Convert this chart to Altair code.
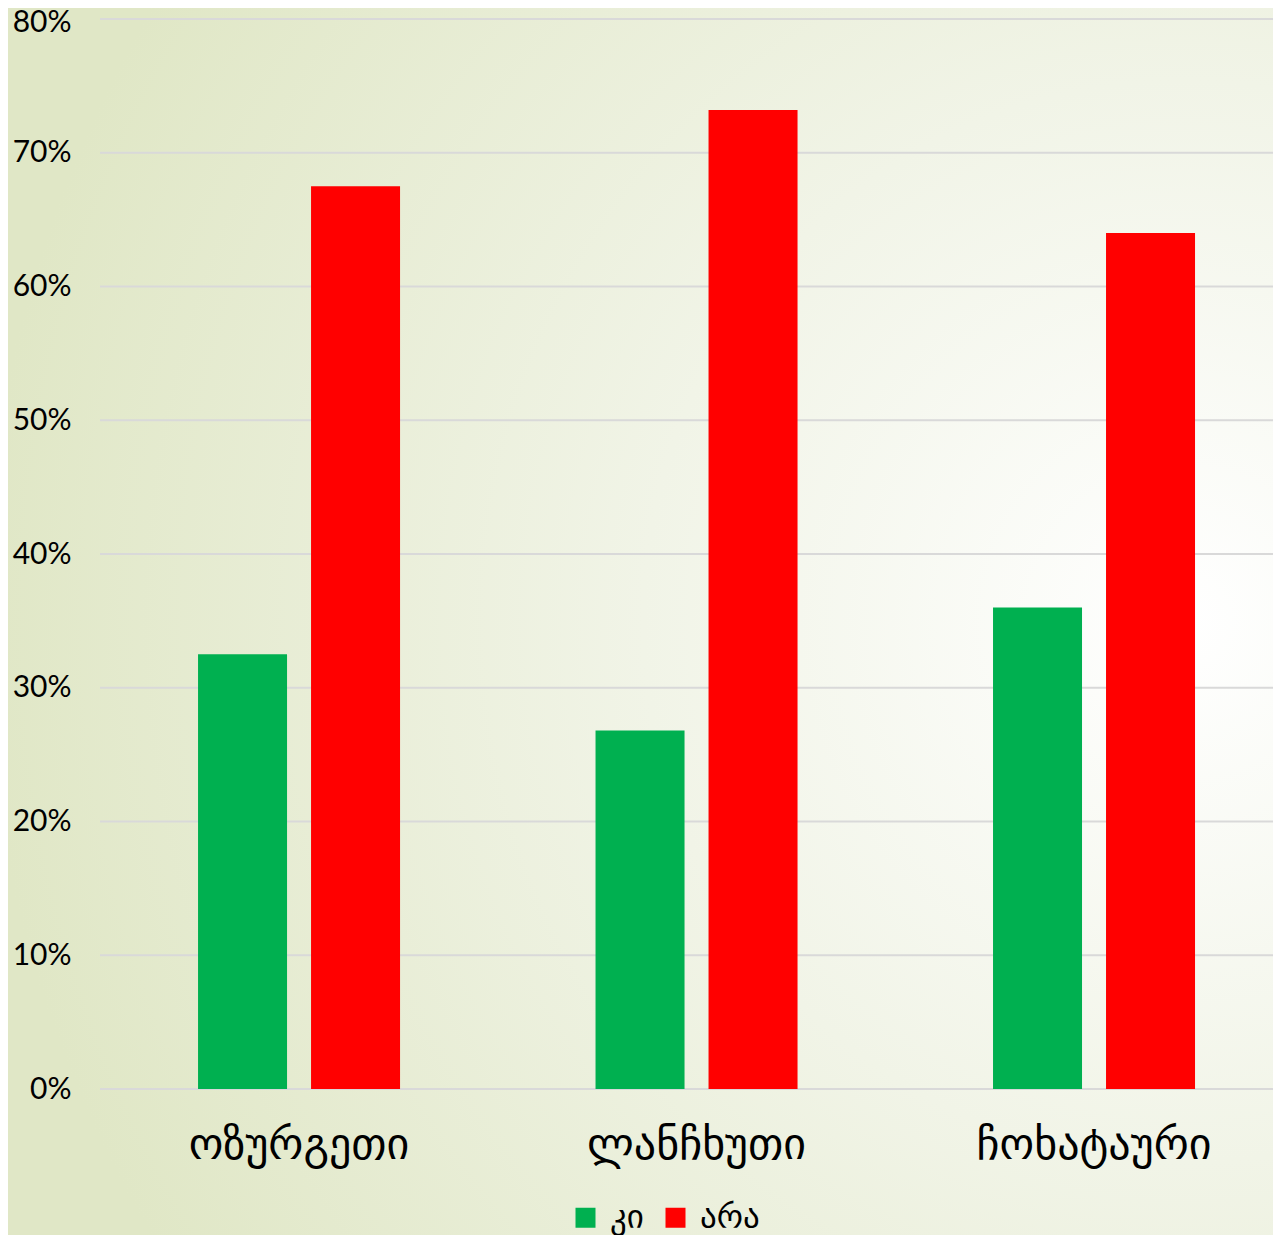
import altair as alt
import pandas as pd

categories = ["ოზურგეთი", "ლანჩხუთი", "ჩოხატაური"]
series = ["კი", "არა"]
yes_values = [0.325, 0.268, 0.360]
no_values = [0.675, 0.732, 0.640]
grid_values = [0.0, 0.1, 0.2, 0.3, 0.4, 0.5, 0.6, 0.7, 0.8]
colors = ["#00b050", "#ff0000"]

rows = []
for c, y, n in zip(categories, yes_values, no_values):
    rows.append({"region": c, "answer": series[0], "value": y})
    rows.append({"region": c, "answer": series[1], "value": n})
df = pd.DataFrame(rows)

W = 1173
H = 1070
PAD = {"left": 92, "top": 11, "right": 0, "bottom": 146}

yscale = alt.Scale(domain=[0, 0.8], nice=False, zero=True)
yaxis = alt.Axis(
    format=".0%", values=grid_values, grid=False, domain=False, ticks=False,
    labelFont="Lato", labelFontSize=30, labelColor="#000000", labelPadding=29,
    labelOffset={"condition": {"test": "datum.value >= 0.79", "value": 3}, "value": 0},
    zindex=2,
)

bg = alt.Chart(pd.DataFrame({"k": [0]})).mark_rect(
    fill=alt.RadialGradient(
        gradient="radial",
        x1=0.93, y1=0.5, r1=0.0,
        x2=0.93, y2=0.5, r2=0.95,
        stops=[
            alt.GradientStop(offset=0.0, color="#ffffff"),
            alt.GradientStop(offset=0.45, color="#f1f4e7"),
            alt.GradientStop(offset=1.0, color="#e0e7c6"),
        ],
    )
).encode(
    x=alt.value(-PAD["left"]), x2=alt.value(W),
    y=alt.value(-PAD["top"]), y2=alt.value(H + PAD["bottom"]),
)

grid = alt.Chart(pd.DataFrame({"g": grid_values})).mark_rule(
    color="#d9d9d9", strokeWidth=2
).encode(
    y=alt.Y("g:Q", scale=yscale, axis=yaxis, title=None),
    x=alt.value(0), x2=alt.value(W),
)

bars = alt.Chart(df).mark_bar().encode(
    x=alt.X(
        "region:N", sort=categories, title=None,
        scale=alt.Scale(paddingInner=0.4918, paddingOuter=0.2214, align=0.557),
        axis=alt.Axis(
            labelAngle=0, domain=False, ticks=False, labelFont="DejaVu Sans",
            labelFontSize=44, labelColor="#000000", labelPadding=34, labelLimit=0,
            zindex=2,
        ),
    ),
    xOffset=alt.XOffset(
        "answer:N", sort=series,
        scale=alt.Scale(paddingInner=0.2124, paddingOuter=0),
    ),
    y=alt.Y("value:Q", scale=yscale, title=None, axis=yaxis),
    color=alt.Color(
        "answer:N", sort=series,
        scale=alt.Scale(domain=series, range=colors),
        legend=alt.Legend(
            title=None, orient="none", direction="horizontal",
            legendX=469, legendY=1182, padding=0, zindex=2,
            symbolType="square", symbolSize=400, symbolStrokeWidth=0,
            labelFont="DejaVu Sans", labelFontSize=33, labelColor="#000000",
            labelOffset=8, columnPadding=15, labelLimit=0,
        ),
    ),
)

chart = alt.layer(bg, grid, bars).properties(
    width=W, height=H,
    autosize=alt.AutoSizeParams(type="none"),
    padding=PAD,
).configure_view(stroke=None).configure(background="#ffffff")

chart.save("out.html", embed_options={"renderer": "svg", "actions": False})
